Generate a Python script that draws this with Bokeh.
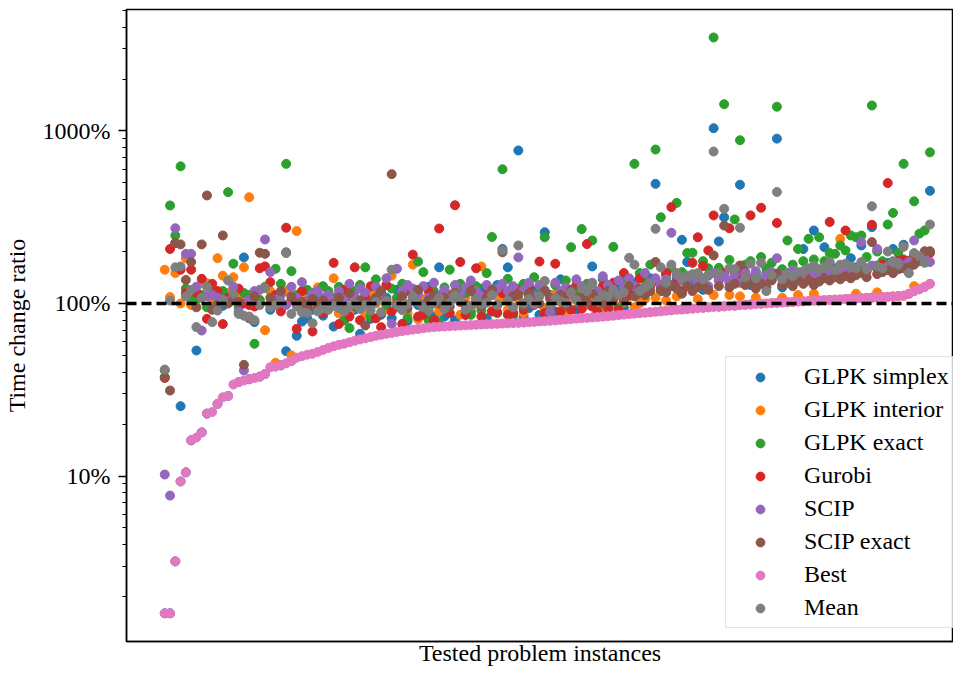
from bokeh.plotting import figure
from bokeh.models import Range1d, FixedTicker, CustomJSTickFormatter, Span
from bokeh.embed import file_html
from bokeh.resources import INLINE

# ---- data (time change ratio, in percent), instances sorted by "Best" ----
glpk_simplex = [
    1.6, 1.6, 3.2, 25.4, 10.5, 16.1, 53.4, 17.9, 23.0, 96,
    26.2, 97, 29.1, 120, 35.0, 185, 36.4, 78, 37.7, 39.0,
    92, 43.2, 43.8, 52.9, 46.5, 65, 78.6, 82, 92, 105,
    85, 95, 73.5, 88, 80, 110, 92, 66.7, 112, 81.5,
    118, 86, 108, 82, 120, 92, 79, 115, 98, 88,
    125, 84, 162, 84, 112, 80, 118, 86, 90, 108,
    122, 82, 112, 128, 207, 162, 88, 771, 84, 94,
    118, 86, 259, 112, 90, 138, 88, 118, 92, 124,
    108, 164, 96, 118, 92, 100, 126, 94, 120, 132,
    110, 124, 140, 494, 118, 130, 126, 140, 234, 174,
    128, 136, 120, 145, 1038, 229, 316, 132, 150, 488,
    140, 128, 146, 134, 150, 138, 903, 124, 150, 142,
    136, 207, 146, 265, 152, 212, 150, 160, 156, 150,
    183, 162, 217, 158, 277, 166, 160, 172, 207, 166,
    219, 176, 186, 180, 196, 450]

glpk_interior = [
    157, 109, 150, 100, 183, 98, 117, 131, 131, 105,
    183, 145, 115, 142, 108, 162, 413, 110, 104, 70,
    118, 45.3, 102, 118, 50, 263, 108, 112, 100, 124,
    92, 104, 140, 88, 112, 90, 108, 102, 86, 116,
    100, 110, 92, 145, 104, 112, 88, 168, 81, 106,
    94, 114, 90, 110, 102, 118, 86, 108, 95, 100,
    164, 104, 90, 110, 104, 92, 112, 106, 88, 108,
    102, 112, 94, 106, 114, 102, 90, 110, 104, 100,
    98, 106, 100, 92, 104, 98, 96, 102, 110, 95,
    100, 106, 89.0, 108, 90.2, 104, 91.4, 110, 92.5, 93.0,
    93.5, 106, 94.5, 95.0, 112, 95.9, 96.3, 112, 97.2, 110,
    98.2, 98.7, 108, 99.7, 133, 100.5, 100.9, 108, 101.7, 102.1,
    112, 102.9, 103.3, 114, 104.1, 104.5, 104.9, 105.3, 237, 106.1,
    106.5, 114, 107.3, 107.7, 108.1, 116, 108.9, 109.4, 109.9, 110.4,
    111.0, 113.8, 126, 121.0, 125.0, 130.0]

glpk_exact = [
    41, 370, 248, 624, 122, 105, 105, 112, 95, 122,
    100, 118, 442, 170, 95, 115, 112, 58.4, 105, 125,
    100, 159, 130, 645, 154, 112, 95, 120, 115, 108,
    126, 118, 108, 125, 80, 72, 118, 128, 162, 84,
    138, 115, 98, 122, 108, 130, 82, 104, 175, 152,
    80, 118, 78, 124, 157, 108, 130, 115, 86, 126,
    91, 150, 243, 88, 600, 139, 85, 122, 130, 112,
    142, 118, 242, 86, 128, 112, 136, 212, 118, 270,
    130, 232, 90, 138, 124, 213, 94, 140, 128, 645,
    150, 136, 168, 781, 316, 146, 160, 383, 152, 196,
    197, 148, 176, 160, 3484, 161, 1430, 179, 307, 884,
    168, 176, 150, 186, 160, 172, 1383, 158, 232, 168,
    207, 176, 237, 180, 242, 176, 196, 194, 217, 203,
    248, 242, 248, 186, 1406, 200, 176, 287, 335, 196,
    645, 177, 391, 254, 265, 752]

gurobi = [
    37, 207, 224, 157, 115, 157, 115, 139, 81.5, 130,
    118, 76, 108, 114, 122, 100, 98, 96, 160, 164,
    133, 112, 90, 275, 105, 71.3, 118, 96, 68.8, 95,
    88, 98, 172, 76, 120, 84, 162, 80, 108, 126,
    82, 72.9, 128, 90, 96, 76.2, 118, 192, 84, 86,
    118, 80, 272, 96, 88, 371, 174, 86, 120, 160,
    84, 112, 90, 89, 115, 86, 88, 118, 92, 126,
    98, 175, 88, 96, 170, 90, 112, 92, 128, 93,
    221, 96, 89, 126, 94, 132, 92, 150, 112, 118,
    140, 118, 126, 135, 124, 150, 362, 132, 118, 140,
    172, 242, 165, 203, 324, 136, 150, 273, 140, 146,
    152, 324, 138, 359, 142, 148, 293, 140, 136, 152,
    144, 138, 150, 146, 140, 156, 297, 148, 152, 265,
    158, 150, 160, 154, 286, 160, 168, 499, 170, 176,
    180, 172, 190, 184, 178, 196]

scip = [
    10.2, 7.7, 273, 9.3, 194, 194, 125, 69.7, 110, 112,
    108, 105, 103, 125, 90, 40.9, 105, 118, 120, 235,
    152, 105, 112, 98, 125, 108, 133, 104, 114, 118,
    108, 112, 104, 118, 106, 130, 110, 122, 116, 98,
    125, 112, 140, 76.2, 159, 118, 128, 122, 114, 126,
    108, 132, 112, 120, 104, 128, 112, 124, 136, 118,
    110, 128, 116, 122, 130, 118, 126, 185, 120, 132,
    110, 128, 120, 89, 132, 118, 124, 114, 138, 126,
    120, 132, 118, 144, 128, 120, 136, 124, 140, 126,
    118, 150, 132, 140, 128, 138, 257, 146, 136, 130,
    144, 132, 140, 126, 150, 138, 144, 136, 148, 132,
    150, 140, 154, 136, 146, 152, 183, 146, 140, 156,
    148, 142, 158, 150, 144, 160, 152, 146, 158, 150,
    162, 156, 227, 160, 166, 207, 158, 164, 168, 172,
    166, 174, 232, 186, 190, 174]

scip_exact = [
    37.4, 31.3, 224, 220, 137, 174, 95, 220, 423, 92,
    98, 248, 100, 105, 102, 44.1, 82, 110, 197, 194,
    108, 100, 118, 198, 110, 100, 102, 98, 106, 99,
    104, 96, 99, 108, 92, 115, 96, 104, 74.6, 102,
    108, 118, 105, 562, 100, 110, 94, 108, 120, 98,
    104, 112, 100, 108, 96, 115, 102, 98, 118, 104,
    96, 108, 120, 98, 198, 104, 110, 112, 96, 114,
    104, 100, 118, 108, 104, 112, 98, 120, 106, 110,
    102, 114, 108, 100, 118, 106, 112, 104, 126, 110,
    122, 112, 118, 174, 120, 116, 128, 122, 114, 126,
    118, 124, 130, 120, 190, 126, 283, 124, 130, 166,
    128, 134, 122, 130, 124, 136, 149, 128, 132, 126,
    138, 130, 136, 128, 134, 140, 136, 142, 138, 144,
    140, 146, 150, 142, 227, 148, 152, 156, 150, 158,
    160, 162, 168, 176, 201, 201]

best = [
    1.6, 1.6, 3.2, 9.3, 10.5, 16.1, 16.7, 17.9, 23.0, 23.5,
    26.2, 28.6, 29.1, 33.9, 35.0, 35.8, 36.4, 37.0, 37.7, 39.0,
    42.7, 43.2, 43.8, 45.0, 46.5, 48.5, 49.5, 50.5, 51.1, 52.4,
    53.8, 55.2, 56.5, 57.6, 58.4, 59.6, 60.8, 61.9, 62.8, 63.9,
    65.0, 65.8, 66.7, 67.5, 68.4, 69.2, 69.8, 70.5, 71.2, 71.8,
    72.5, 73.0, 73.3, 73.6, 73.9, 74.2, 74.5, 74.7, 75.0, 75.3,
    75.5, 75.8, 76.0, 76.2, 76.5, 76.7, 77.0, 77.2, 77.5, 77.9,
    78.3, 78.7, 79.0, 79.4, 79.8, 80.3, 80.7, 81.2, 81.7, 82.1,
    82.5, 83.0, 83.4, 83.9, 84.4, 85.0, 85.6, 86.2, 86.8, 87.3,
    87.8, 88.4, 89.0, 89.6, 90.2, 90.8, 91.4, 92.0, 92.5, 93.0,
    93.5, 94.0, 94.5, 95.0, 95.5, 95.9, 96.3, 96.8, 97.2, 97.7,
    98.2, 98.7, 99.2, 99.7, 100.1, 100.5, 100.9, 101.3, 101.7, 102.1,
    102.5, 102.9, 103.3, 103.7, 104.1, 104.5, 104.9, 105.3, 105.7, 106.1,
    106.5, 106.9, 107.3, 107.7, 108.1, 108.5, 108.9, 109.4, 109.9, 110.4,
    111.0, 113.8, 117.8, 121.0, 125.0, 130.0]

mean = [
    41.4, 104, 162, 164, 110, 120, 73, 108, 125, 78,
    91, 103, 136, 114, 87, 85, 84, 80, 98, 123,
    95, 98, 102, 196, 87, 96, 89, 88, 76.9, 90,
    94, 92, 97, 94, 90, 96, 100, 93, 98, 91,
    102, 89, 104, 157, 98, 92, 99, 110, 102, 95,
    91, 100, 108, 93, 101, 112, 104, 92, 97, 106,
    99, 101, 112, 98, 203, 104, 95, 217, 100, 106,
    99, 110, 135, 97, 108, 103, 101, 116, 105, 122,
    118, 130, 104, 112, 110, 120, 112, 116, 184, 168,
    118, 124, 130, 271, 162, 132, 168, 150, 140, 145,
    148, 150, 138, 146, 760, 150, 354, 160, 158, 275,
    142, 170, 140, 172, 118, 146, 443, 138, 150, 144,
    152, 154, 160, 166, 158, 162, 174, 156, 168, 170,
    164, 160, 174, 158, 366, 164, 160, 200, 176, 168,
    213, 150, 196, 188, 172, 287]

series_names = ["GLPK simplex", "GLPK interior", "GLPK exact", "Gurobi",
                "SCIP", "SCIP exact", "Best", "Mean"]
series_values = [glpk_simplex, glpk_interior, glpk_exact, gurobi,
                 scip, scip_exact, best, mean]
colors = ["#1f77b4", "#ff7f0e", "#2ca02c", "#d62728",
          "#9467bd", "#8c564b", "#e377c2", "#7f7f7f"]

y_major = [10, 100, 1000]
y_minor = [2, 3, 4, 5, 6, 7, 8, 9, 20, 30, 40, 50, 60, 70, 80, 90,
           200, 300, 400, 500, 600, 700, 800, 900, 2000, 3000, 4000, 5000]

instances = list(range(len(best)))

FONT = "Liberation Serif"

p = figure(width=953, height=668, y_axis_type="log",
           x_range=Range1d(-7.25, 149.46), y_range=Range1d(1.098, 5062),
           output_backend="svg", toolbar_location=None,
           min_border_left=117, min_border_right=0,
           min_border_top=9, min_border_bottom=27)

for name, vals, col in zip(series_names, series_values, colors):
    p.scatter(instances, vals, size=9, color=col, legend_label=name)

p.add_layout(Span(location=100, dimension="width", line_color="black",
                  line_width=3.5, line_dash="10 5"))

p.xgrid.visible = False
p.ygrid.visible = False
p.outline_line_color = "black"
p.outline_line_width = 1.5
p.background_fill_color = "white"
p.border_fill_color = "white"

for ax in (p.xaxis[0], p.yaxis[0]):
    ax.axis_line_color = "black"
    ax.axis_line_width = 1.5
    ax.axis_label_text_font = FONT
    ax.axis_label_text_font_size = "24px"
    ax.axis_label_text_font_style = "normal"
    ax.axis_label_text_color = "black"
    ax.major_label_text_font = FONT
    ax.major_label_text_font_size = "24px"
    ax.major_label_text_color = "black"

xa = p.xaxis[0]
xa.ticker = FixedTicker(ticks=[])
xa.major_tick_out = 0
xa.major_tick_in = 0
xa.minor_tick_out = 0
xa.minor_tick_in = 0
xa.axis_label = "Tested problem instances"
xa.axis_label_standoff = -2

ya = p.yaxis[0]
ya.ticker = FixedTicker(ticks=y_major, minor_ticks=y_minor)
ya.formatter = CustomJSTickFormatter(code="return tick.toFixed(0) + '%';")
ya.major_tick_out = 8
ya.major_tick_in = 0
ya.minor_tick_out = 4
ya.minor_tick_in = 0
ya.major_tick_line_width = 1.5
ya.minor_tick_line_width = 1.2
ya.major_tick_line_color = "black"
ya.minor_tick_line_color = "black"
ya.major_label_standoff = 8
ya.axis_label = "Time change ratio"
ya.axis_label_standoff = 10

lg = p.legend[0]
lg.location = (599, 13)
lg.label_text_font = FONT
lg.label_text_font_size = "24px"
lg.label_text_color = "black"
lg.glyph_width = 56
lg.glyph_height = 22
lg.label_height = 22
lg.label_standoff = 16
lg.padding = 6
lg.spacing = 6
lg.margin = 0
lg.border_line_color = "#cccccc"
lg.border_line_width = 1.3
lg.background_fill_alpha = 0.8

open("out.html", "w").write(file_html(p, INLINE))
